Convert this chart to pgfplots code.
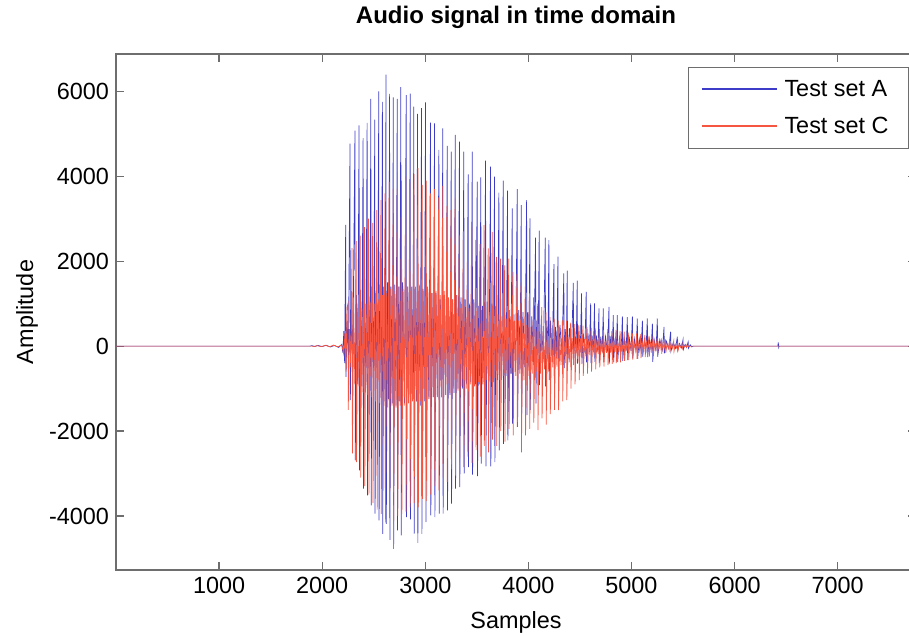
\documentclass[border=0pt]{standalone}
\usepackage{fontspec}
\setmainfont{Liberation Sans}
\usepackage{pgfplots}
\pgfplotsset{compat=1.18}
\definecolor{SigA}{RGB}{60,60,200}
\definecolor{SigC}{RGB}{245,85,65}
\definecolor{AxGray}{RGB}{110,110,110}

\begin{document}
\begin{tikzpicture}
\begin{axis}[
    scale only axis,
    width=400pt, height=258pt,
    xmin=0, xmax=7760,
    ymin=-5273, ymax=6880,
    xtick={1000,2000,...,7000},
    ytick={-4000,-2000,0,2000,4000,6000},
    tick align=inside,
    major tick length=4pt,
    axis line style={AxGray, line width=0.6pt},
    every tick/.style={AxGray, line width=0.6pt},
    /pgf/number format/assume math mode=true,
    /pgf/number format/1000 sep={},
    tick label style={font=\fontsize{11.7}{14}\selectfont},
    xticklabel style={anchor=base, yshift=-11.5pt},
    title={Audio signal in time domain},
    title style={font=\fontsize{12}{14}\selectfont\bfseries, at={(0.5,1)}, anchor=base, yshift=9pt},
    xlabel={Samples},
    xlabel style={font=\fontsize{11.7}{14}\selectfont, at={(axis description cs:0.5,-0.1008)}, anchor=center},
    ylabel={Amplitude},
    ylabel style={font=\fontsize{11.7}{14}\selectfont, at={(axis description cs:-0.1112,0.5)}, anchor=center},
    legend style={at={(0.9912,0.9756)}, anchor=north east, draw=AxGray, fill=white,
        font=\fontsize{11.7}{14}\selectfont, inner xsep=6.5pt, inner ysep=1.75pt,
        nodes={inner ysep=3.75pt, inner xsep=3.5pt, text height=9.5pt, text depth=1.5pt}},
    legend cell align=left,
]
% Test set A
\addplot[draw=SigA, line width=0.35pt, forget plot] coordinates {
(0,0)(1880,0)(1900,10)(1930,-8)(1960,15)(2000,-10)(2040,18)(2080,-20)(2120,15)(2160,-30)(2190,40)(2200,-150)(2210,350)(2218,-400)
(2228,2855)(2231,-724)(2242,600)(2254,-300)
(2270,4766)(2273,-1274)(2284,1100)(2296,-600)
(2318,5073)(2321,-2690)(2332,1200)(2344,-900)
(2358,5198)(2361,-2926)(2372,1250)(2384,-950)
(2397,4900)(2400,-3358)(2411,1150)(2423,-1000)
(2436,5255)(2439,-3516)(2450,1300)(2462,-1050)
(2472,5821)(2475,-3752)(2486,1400)(2498,-1100)
(2510,5333)(2513,-3948)(2524,1300)(2536,-1200)
(2549,6000)(2552,-4106)(2563,1450)(2574,-1250)
(2584,5750)(2587,-4420)(2598,1400)(2609,-1300)
(2619,6395)(2622,-4184)(2633,1500)(2644,-1250)
(2654,5940)(2657,-4562)(2668,1400)(2680,-1350)
(2690,5860)(2693,-4774)(2704,1450)(2716,-1400)
(2728,5821)(2731,-4342)(2742,1400)(2753,-1300)
(2763,6097)(2766,-4460)(2780,1500)(2798,-1350)
(2815,5910)(2818,-4027)(2829,1400)(2841,-1200)
(2854,5948)(2857,-4082)(2868,1400)(2879,-1250)
(2889,5640)(2892,-4420)(2903,1350)(2915,-1300)
(2925,5468)(2928,-4633)(2939,1300)(2951,-1400)
(2964,5602)(2967,-4420)(2978,1350)(2990,-1300)
(3003,5743)(3006,-4145)(3019,1400)(3035,-1250)
(3051,5263)(3054,-3988)(3065,1250)(3077,-1200)
(3090,5248)(3093,-4027)(3104,1250)(3117,-1200)
(3132,4620)(3135,-3948)(3146,1100)(3158,-1200)
(3170,5130)(3173,-3948)(3185,1200)(3199,-1150)
(3213,4713)(3216,-3870)(3227,1100)(3239,-1150)
(3252,4579)(3255,-3712)(3266,1100)(3278,-1100)
(3291,4973)(3294,-3358)(3305,1200)(3318,-1000)
(3332,4815)(3335,-3320)(3347,1150)(3360,-1000)
(3374,4579)(3377,-3004)(3388,1100)(3401,-900)
(3416,4047)(3419,-2848)(3430,1000)(3442,-850)
(3456,4579)(3459,-3028)(3471,1100)(3487,-900)
(3504,3872)(3507,-3060)(3518,950)(3528,-900)
(3539,3975)(3542,-2769)(3555,950)(3570,-850)
(3585,4368)(3588,-2832)(3601,1050)(3617,-850)
(3633,4226)(3636,-2832)(3647,1000)(3659,-850)
(3672,3990)(3675,-2730)(3687,950)(3700,-800)
(3714,3613)(3717,-2454)(3729,850)(3742,-750)
(3756,3896)(3759,-2300)(3771,900)(3784,-700)
(3798,3660)(3801,-2218)(3814,850)(3829,-650)
(3844,3245)(3847,-1824)(3860,750)(3876,-550)
(3892,3700)(3895,-1900)(3907,850)(3919,-550)
(3931,3323)(3934,-1746)(3947,800)(3966,-500)
(3983,3441)(3986,-1628)(3995,800)(4005,-500)
(4015,3009)(4018,-1500)(4033,700)(4052,-450)
(4070,2553)(4073,-1352)(4083,600)(4094,-400)
(4105,2718)(4108,-920)(4125,650)(4145,-300)
(4164,2553)(4167,-950)(4178,600)(4189,-300)
(4199,2498)(4202,-802)(4215,600)(4232,-250)
(4248,1933)(4251,-700)(4263,450)(4276,-220)
(4287,2105)(4290,-566)(4306,500)(4326,-200)
(4344,1713)(4347,-520)(4358,400)(4368,-180)
(4377,1775)(4380,-487)(4398,420)(4418,-170)
(4436,1492)(4439,-450)(4451,350)(4463,-160)
(4474,1540)(4477,-410)(4490,360)(4503,-150)
(4516,1242)(4519,-420)(4533,300)(4548,-150)
(4561,1280)(4564,-380)(4578,300)(4592,-140)
(4604,1006)(4607,-400)(4618,250)(4630,-140)
(4642,1006)(4645,-370)(4659,250)(4673,-130)
(4685,888)(4688,-400)(4702,220)(4716,-140)
(4727,888)(4730,-380)(4748,220)(4768,-130)
(4782,926)(4785,-410)(4799,230)(4812,-140)
(4824,731)(4827,-380)(4840,180)(4852,-130)
(4863,731)(4866,-370)(4883,180)(4900,-130)
(4912,700)(4915,-350)(4931,170)(4948,-120)
(4960,680)(4963,-330)(4980,170)(4996,-110)
(5009,700)(5012,-290)(5028,170)(5045,-100)
(5057,650)(5060,-300)(5076,160)(5093,-100)
(5106,600)(5109,-250)(5125,150)(5141,-90)
(5154,650)(5157,-260)(5173,160)(5190,-90)
(5203,530)(5206,-370)(5222,130)(5238,-120)
(5251,650)(5254,-250)(5275,150)(5300,-90)
(5316,450)(5319,-170)(5340,110)(5362,-60)
(5380,340)(5383,-120)(5405,80)(5428,-50)
(5445,220)(5448,-100)(5465,60)(5485,-40)
(5500,150)(5503,-80)(5520,40)(5535,-30)
(5550,100)(5553,-50)(5570,30)(5585,-20)
(5600,0)(6420,0)(6424,90)(6428,-30)(6432,0)(7760,0)
};
% Test set C
\addplot[draw=SigC, line width=0.35pt, forget plot] coordinates {
(0,0)(1900,0)(1920,-10)(1950,12)(1990,-15)(2030,20)(2070,-15)(2110,25)(2150,-20)(2190,30)(2210,-200)(2220,300)(2232,-600)(2240,900)
(2250,1000)(2253,-1500)(2265,400)(2277,-500)
(2290,2310)(2293,-2533)(2305,800)(2317,-900)
(2330,2470)(2333,-2730)(2345,900)(2357,-950)
(2370,2600)(2373,-3100)(2385,900)(2397,-1100)
(2410,2800)(2413,-3300)(2425,1000)(2437,-1150)
(2450,3000)(2453,-3500)(2465,1050)(2477,-1200)
(2490,2900)(2493,-3700)(2505,1000)(2517,-1300)
(2530,3200)(2533,-3850)(2545,1100)(2557,-1350)
(2570,3441)(2573,-3950)(2585,1200)(2597,-1400)
(2610,3600)(2613,-4150)(2625,1250)(2637,-1450)
(2650,3870)(2653,-4050)(2665,1350)(2677,-1400)
(2690,3700)(2693,-4200)(2705,1300)(2717,-1450)
(2730,4100)(2733,-4000)(2745,1400)(2757,-1400)
(2770,3900)(2773,-3950)(2785,1350)(2797,-1400)
(2810,4000)(2813,-3900)(2825,1400)(2837,-1350)
(2850,3850)(2853,-3800)(2865,1350)(2877,-1300)
(2890,4050)(2893,-3700)(2905,1400)(2917,-1300)
(2930,4190)(2933,-3800)(2945,1450)(2957,-1300)
(2970,3800)(2973,-3600)(2985,1300)(2997,-1250)
(3010,3900)(3013,-3650)(3025,1350)(3037,-1250)
(3050,3600)(3053,-3500)(3065,1250)(3077,-1200)
(3090,3700)(3093,-3300)(3105,1300)(3117,-1150)
(3130,3500)(3133,-3400)(3145,1200)(3157,-1200)
(3170,3776)(3173,-3100)(3185,1300)(3197,-1100)
(3210,3300)(3213,-3200)(3225,1150)(3237,-1100)
(3250,3200)(3253,-2900)(3265,1100)(3277,-1000)
(3290,3480)(3293,-3050)(3305,1200)(3317,-1050)
(3330,2610)(3333,-2750)(3345,900)(3357,-950)
(3370,2700)(3373,-2850)(3385,950)(3397,-1000)
(3410,2500)(3413,-2600)(3425,900)(3437,-900)
(3450,2800)(3453,-2750)(3465,1000)(3477,-950)
(3490,2500)(3493,-2450)(3505,900)(3517,-850)
(3530,2400)(3533,-2600)(3545,850)(3557,-900)
(3570,2850)(3573,-2350)(3585,1000)(3597,-800)
(3610,2300)(3613,-2500)(3625,800)(3637,-850)
(3650,2690)(3653,-2200)(3665,950)(3677,-750)
(3690,2100)(3693,-2350)(3705,750)(3717,-800)
(3730,2060)(3733,-2000)(3745,700)(3757,-700)
(3770,1900)(3773,-2250)(3785,650)(3797,-750)
(3810,2060)(3813,-1950)(3825,700)(3837,-650)
(3850,1750)(3853,-2100)(3865,600)(3877,-700)
(3890,1700)(3893,-1900)(3905,600)(3917,-650)
(3930,1500)(3933,-2500)(3945,550)(3957,-800)
(3970,1400)(3973,-2100)(3985,500)(3997,-700)
(4010,1240)(4013,-1950)(4025,450)(4037,-650)
(4050,1150)(4053,-1800)(4065,400)(4077,-600)
(4090,1000)(4093,-1980)(4105,350)(4117,-650)
(4130,920)(4133,-1700)(4145,320)(4157,-550)
(4170,800)(4173,-1850)(4185,300)(4197,-600)
(4210,680)(4213,-1600)(4225,250)(4237,-500)
(4250,650)(4253,-1500)(4265,230)(4277,-480)
(4290,600)(4293,-1510)(4305,220)(4317,-450)
(4330,620)(4333,-1300)(4345,220)(4357,-400)
(4370,600)(4373,-1270)(4385,210)(4397,-380)
(4410,550)(4413,-1000)(4425,200)(4437,-320)
(4450,520)(4453,-900)(4465,190)(4477,-300)
(4490,500)(4493,-800)(4505,180)(4517,-260)
(4530,480)(4533,-700)(4545,170)(4557,-240)
(4570,450)(4573,-650)(4585,160)(4597,-220)
(4610,430)(4613,-600)(4625,150)(4637,-200)
(4650,420)(4653,-550)(4665,150)(4677,-190)
(4690,400)(4693,-500)(4705,140)(4717,-170)
(4730,380)(4733,-480)(4745,130)(4757,-160)
(4770,400)(4773,-450)(4785,140)(4797,-150)
(4810,360)(4813,-420)(4825,130)(4837,-140)
(4850,380)(4853,-400)(4865,130)(4877,-140)
(4890,350)(4893,-380)(4905,120)(4917,-130)
(4930,340)(4933,-350)(4945,120)(4957,-120)
(4970,320)(4973,-330)(4985,110)(4997,-110)
(5010,300)(5013,-320)(5025,100)(5037,-110)
(5050,300)(5053,-300)(5065,100)(5077,-100)
(5090,280)(5093,-280)(5105,100)(5117,-100)
(5130,260)(5133,-260)(5145,90)(5157,-90)
(5170,240)(5173,-250)(5185,80)(5197,-90)
(5210,230)(5213,-230)(5225,80)(5237,-80)
(5250,200)(5253,-200)(5265,70)(5277,-70)
(5290,180)(5293,-180)(5305,60)(5317,-60)
(5330,160)(5333,-160)(5345,55)(5357,-55)
(5370,140)(5373,-140)(5385,50)(5397,-50)
(5410,120)(5413,-120)(5425,40)(5437,-40)
(5450,90)(5453,-90)(5465,30)(5477,-30)
(5490,60)(5493,-60)(5505,20)(5517,-20)
(5530,30)(5533,-30)(5545,10)(5557,-10)
(5570,0)(7760,0)
};
\addlegendimage{legend image code/.code={\draw[SigA, line width=0.55pt] (0pt,0pt) -- (37.5pt,0pt);}}
\addlegendentry{Test set A}
\addlegendimage{legend image code/.code={\draw[SigC, line width=0.55pt] (0pt,0pt) -- (37.5pt,0pt);}}
\addlegendentry{Test set C}
\end{axis}
\pgfresetboundingbox
\path[use as bounding box] (current axis.south west) ++(-58pt,-33pt) rectangle ++(454.5pt,318pt);
\end{tikzpicture}
\end{document}
